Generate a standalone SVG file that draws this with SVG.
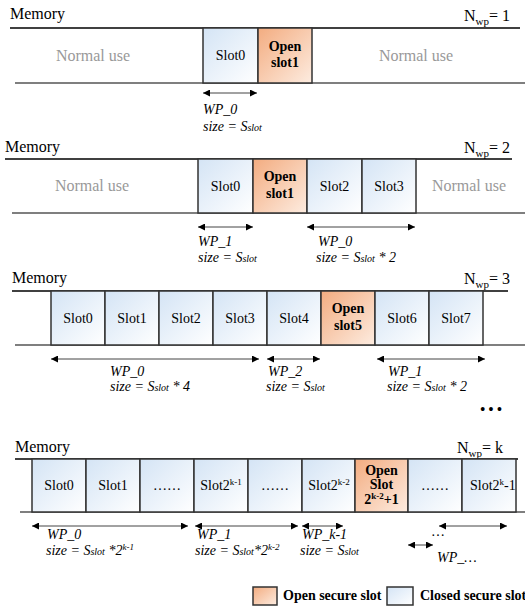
<svg xmlns="http://www.w3.org/2000/svg" width="525" height="606" viewBox="0 0 525 606" font-family="'Liberation Serif', serif">
<style>
text{font-family:'Liberation Serif',serif;fill:#000}
.mem{font-size:16px}
.nu{font-size:16px;fill:#999;text-anchor:middle}
.sl{font-size:14px;text-anchor:middle}
.op{font-size:14px;font-weight:bold;text-anchor:middle}
.lb{font-size:14px;font-style:italic}
.top{stroke:#000;stroke-width:1.5}
.bot{stroke:#555;stroke-width:1.5}
.cs{fill:url(#gc);stroke:#333;stroke-width:1.5}
.os{fill:url(#go);stroke:#333;stroke-width:1.5}
.ar{stroke:#444;stroke-width:1;fill:none;marker-start:url(#ah);marker-end:url(#ah)}
.lg{font-size:14px;font-weight:bold}
</style>
<defs>
<linearGradient id="gc" x1="0" y1="0" x2="1" y2="1">
<stop offset="0" stop-color="#d4e4f5"/>
<stop offset="1" stop-color="#ffffff"/>
</linearGradient>
<linearGradient id="go" x1="0" y1="0" x2="1" y2="1">
<stop offset="0" stop-color="#f3ac80"/>
<stop offset="1" stop-color="#fdece0"/>
</linearGradient>
<marker id="ah" viewBox="0 0 10 10" refX="10" refY="5" markerWidth="9" markerHeight="7" markerUnits="userSpaceOnUse" orient="auto-start-reverse">
<path d="M0,0 L10,5 L0,10 z" fill="#000"/>
</marker>
</defs>

<!-- Section 1 -->
<g id="sec1">
<text class="mem" x="10" y="19">Memory</text>
<text class="mem" x="510" y="21" text-anchor="end">N<tspan font-size="11" dy="4">wp</tspan><tspan dy="-4">= 1</tspan></text>
<line class="top" x1="10" y1="28" x2="520" y2="28"/>
<line class="bot" x1="15" y1="83" x2="525" y2="83"/>
<text class="nu" x="93" y="61">Normal use</text>
<text class="nu" x="416" y="61">Normal use</text>
</g>
<g id="s1-slot0"><rect class="cs" x="203" y="28" width="55" height="55"/><text class="sl" x="230.5" y="60">Slot0</text></g>
<g id="s1-slot1"><rect class="os" x="258" y="28" width="54" height="55"/><text class="op" x="285" y="51">Open</text><text class="op" x="285" y="67">slot1</text></g>
<g id="s1-labels">
<text class="lb" x="203" y="114">WP_0</text>
<text class="lb" x="203" y="131">size = S<tspan font-size="10">slot</tspan></text>
</g>

<!-- Section 2 -->
<g id="sec2">
<text class="mem" x="5" y="152">Memory</text>
<text class="mem" x="510" y="153" text-anchor="end">N<tspan font-size="11" dy="4">wp</tspan><tspan dy="-4">= 2</tspan></text>
<line class="top" x1="5" y1="159" x2="512" y2="159"/>
<line class="bot" x1="12" y1="213" x2="525" y2="213"/>
<text class="nu" x="92" y="191">Normal use</text>
<text class="nu" x="469" y="191">Normal use</text>
</g>
<g id="s2-slot0"><rect class="cs" x="198" y="159" width="55" height="54"/><text class="sl" x="225.5" y="191">Slot0</text></g>
<g id="s2-slot1"><rect class="os" x="253" y="159" width="54" height="54"/><text class="op" x="280" y="181">Open</text><text class="op" x="280" y="198">slot1</text></g>
<g id="s2-slot2"><rect class="cs" x="307" y="159" width="55" height="54"/><text class="sl" x="334.5" y="191">Slot2</text></g>
<g id="s2-slot3"><rect class="cs" x="362" y="159" width="54" height="54"/><text class="sl" x="389" y="191">Slot3</text></g>
<g id="s2-labels">
<text class="lb" x="198" y="246">WP_1</text>
<text class="lb" x="198" y="262">size = S<tspan font-size="10">slot</tspan></text>
<text class="lb" x="318" y="246">WP_0</text>
<text class="lb" x="316" y="262">size = S<tspan font-size="10">slot</tspan> * 2</text>
</g>

<!-- Section 3 -->
<g id="sec3">
<text class="mem" x="12" y="283">Memory</text>
<text class="mem" x="510" y="284" text-anchor="end">N<tspan font-size="11" dy="4">wp</tspan><tspan dy="-4">= 3</tspan></text>
<line class="top" x1="12" y1="291" x2="508" y2="291"/>
<line class="bot" x1="15" y1="345" x2="525" y2="345"/>
</g>
<g id="s3-slot0"><rect class="cs" x="51" y="291" width="54" height="54"/><text class="sl" x="78" y="323">Slot0</text></g>
<g id="s3-slot1"><rect class="cs" x="105" y="291" width="54" height="54"/><text class="sl" x="132" y="323">Slot1</text></g>
<g id="s3-slot2"><rect class="cs" x="159" y="291" width="54" height="54"/><text class="sl" x="186" y="323">Slot2</text></g>
<g id="s3-slot3"><rect class="cs" x="213" y="291" width="54" height="54"/><text class="sl" x="240" y="323">Slot3</text></g>
<g id="s3-slot4"><rect class="cs" x="267" y="291" width="54" height="54"/><text class="sl" x="294" y="323">Slot4</text></g>
<g id="s3-slot5"><rect class="os" x="321" y="291" width="54" height="54"/><text class="op" x="348" y="313">Open</text><text class="op" x="348" y="330">slot5</text></g>
<g id="s3-slot6"><rect class="cs" x="375" y="291" width="54" height="54"/><text class="sl" x="402" y="323">Slot6</text></g>
<g id="s3-slot7"><rect class="cs" x="429" y="291" width="54" height="54"/><text class="sl" x="456" y="323">Slot7</text></g>
<g id="s3-labels">
<text class="lb" x="110" y="376">WP_0</text>
<text class="lb" x="110" y="391">size = S<tspan font-size="10">slot</tspan> * 4</text>
<text class="lb" x="268" y="376">WP_2</text>
<text class="lb" x="266" y="391">size = S<tspan font-size="10">slot</tspan></text>
<text class="lb" x="388" y="376">WP_1</text>
<text class="lb" x="387" y="391">size = S<tspan font-size="10">slot</tspan> * 2</text>
</g>
<text x="491" y="414" font-size="14" font-weight="bold" text-anchor="middle">• • •</text>

<!-- Section 4 -->
<g id="sec4">
<text class="mem" x="15" y="452">Memory</text>
<text class="mem" x="503" y="453" text-anchor="end">N<tspan font-size="11" dy="4">wp</tspan><tspan dy="-4">= k</tspan></text>
<line class="top" x1="15" y1="459" x2="518" y2="459"/>
<line class="bot" x1="20" y1="512" x2="525" y2="512"/>
</g>
<g id="s4-slot0"><rect class="cs" x="32" y="459" width="54" height="53"/><text class="sl" x="59" y="490">Slot0</text></g>
<g id="s4-slot1"><rect class="cs" x="86" y="459" width="54" height="53"/><text class="sl" x="113" y="490">Slot1</text></g>
<g id="s4-dots1"><rect class="cs" x="140" y="459" width="54" height="53"/><text class="sl" x="167" y="490">……</text></g>
<g id="s4-slotk1"><rect class="cs" x="194" y="459" width="54" height="53"/><text class="sl" x="221" y="490">Slot2<tspan font-size="9" dy="-5">k-1</tspan></text></g>
<g id="s4-dots2"><rect class="cs" x="248" y="459" width="54" height="53"/><text class="sl" x="275" y="490">……</text></g>
<g id="s4-slotk2"><rect class="cs" x="302" y="459" width="53" height="53"/><text class="sl" x="329" y="490">Slot2<tspan font-size="9" dy="-5">k-2</tspan></text></g>
<g id="s4-open"><rect class="os" x="355" y="459" width="53" height="53"/><text class="op" x="381.5" y="475">Open</text><text class="op" x="381.5" y="489">Slot</text><text class="op" x="381.5" y="504">2<tspan font-size="9" dy="-5">k-2</tspan><tspan dy="5">+1</tspan></text></g>
<g id="s4-dots3"><rect class="cs" x="408" y="459" width="54" height="53"/><text class="sl" x="435" y="490">……</text></g>
<g id="s4-slotlast"><rect class="cs" x="462" y="459" width="54" height="53"/><text class="sl" x="470" y="490" style="text-anchor:start">Slot2<tspan font-size="9" dy="-5">k</tspan><tspan dy="5">-1</tspan></text></g>
<g id="s4-labels">
<text class="lb" x="47" y="539">WP_0</text>
<text class="lb" x="46" y="555">size = S<tspan font-size="10">slot</tspan> *2<tspan font-size="9" dy="-5">k-1</tspan></text>
<text class="lb" x="197" y="539">WP_1</text>
<text class="lb" x="195" y="555">size = S<tspan font-size="10">slot</tspan>*2<tspan font-size="9" dy="-5">k-2</tspan></text>
<text class="lb" x="302" y="539">WP_k-1</text>
<text class="lb" x="300" y="555">size = S<tspan font-size="10">slot</tspan></text>
<text class="lb" x="432" y="536">…</text>
<text class="lb" x="437" y="562">WP_…</text>
</g>

<!-- Connectors -->
<g id="connectors">
<line class="ar" x1="203" y1="93" x2="257" y2="93"/>
<line class="ar" x1="198" y1="227" x2="253" y2="227"/>
<line class="ar" x1="307" y1="227" x2="415" y2="227"/>
<line class="ar" x1="51" y1="359" x2="259" y2="359"/>
<line class="ar" x1="267" y1="359" x2="320" y2="359"/>
<line class="ar" x1="377" y1="359" x2="485" y2="359"/>
<line class="ar" x1="32" y1="526" x2="188" y2="526"/>
<line class="ar" x1="195" y1="526" x2="298" y2="526"/>
<line class="ar" x1="302" y1="526" x2="343" y2="526"/>
<line class="ar" x1="439" y1="526" x2="507" y2="526"/>
<line class="ar" x1="408" y1="545" x2="433" y2="545"/>
</g>

<!-- Legend -->
<g id="legend-open"><rect class="os" x="253" y="587" width="24" height="18"/><text class="lg" x="283" y="600">Open secure slot</text></g>
<g id="legend-closed"><rect class="cs" x="387" y="587" width="26" height="18"/><text class="lg" x="420" y="600">Closed secure slot</text></g>
</svg>
